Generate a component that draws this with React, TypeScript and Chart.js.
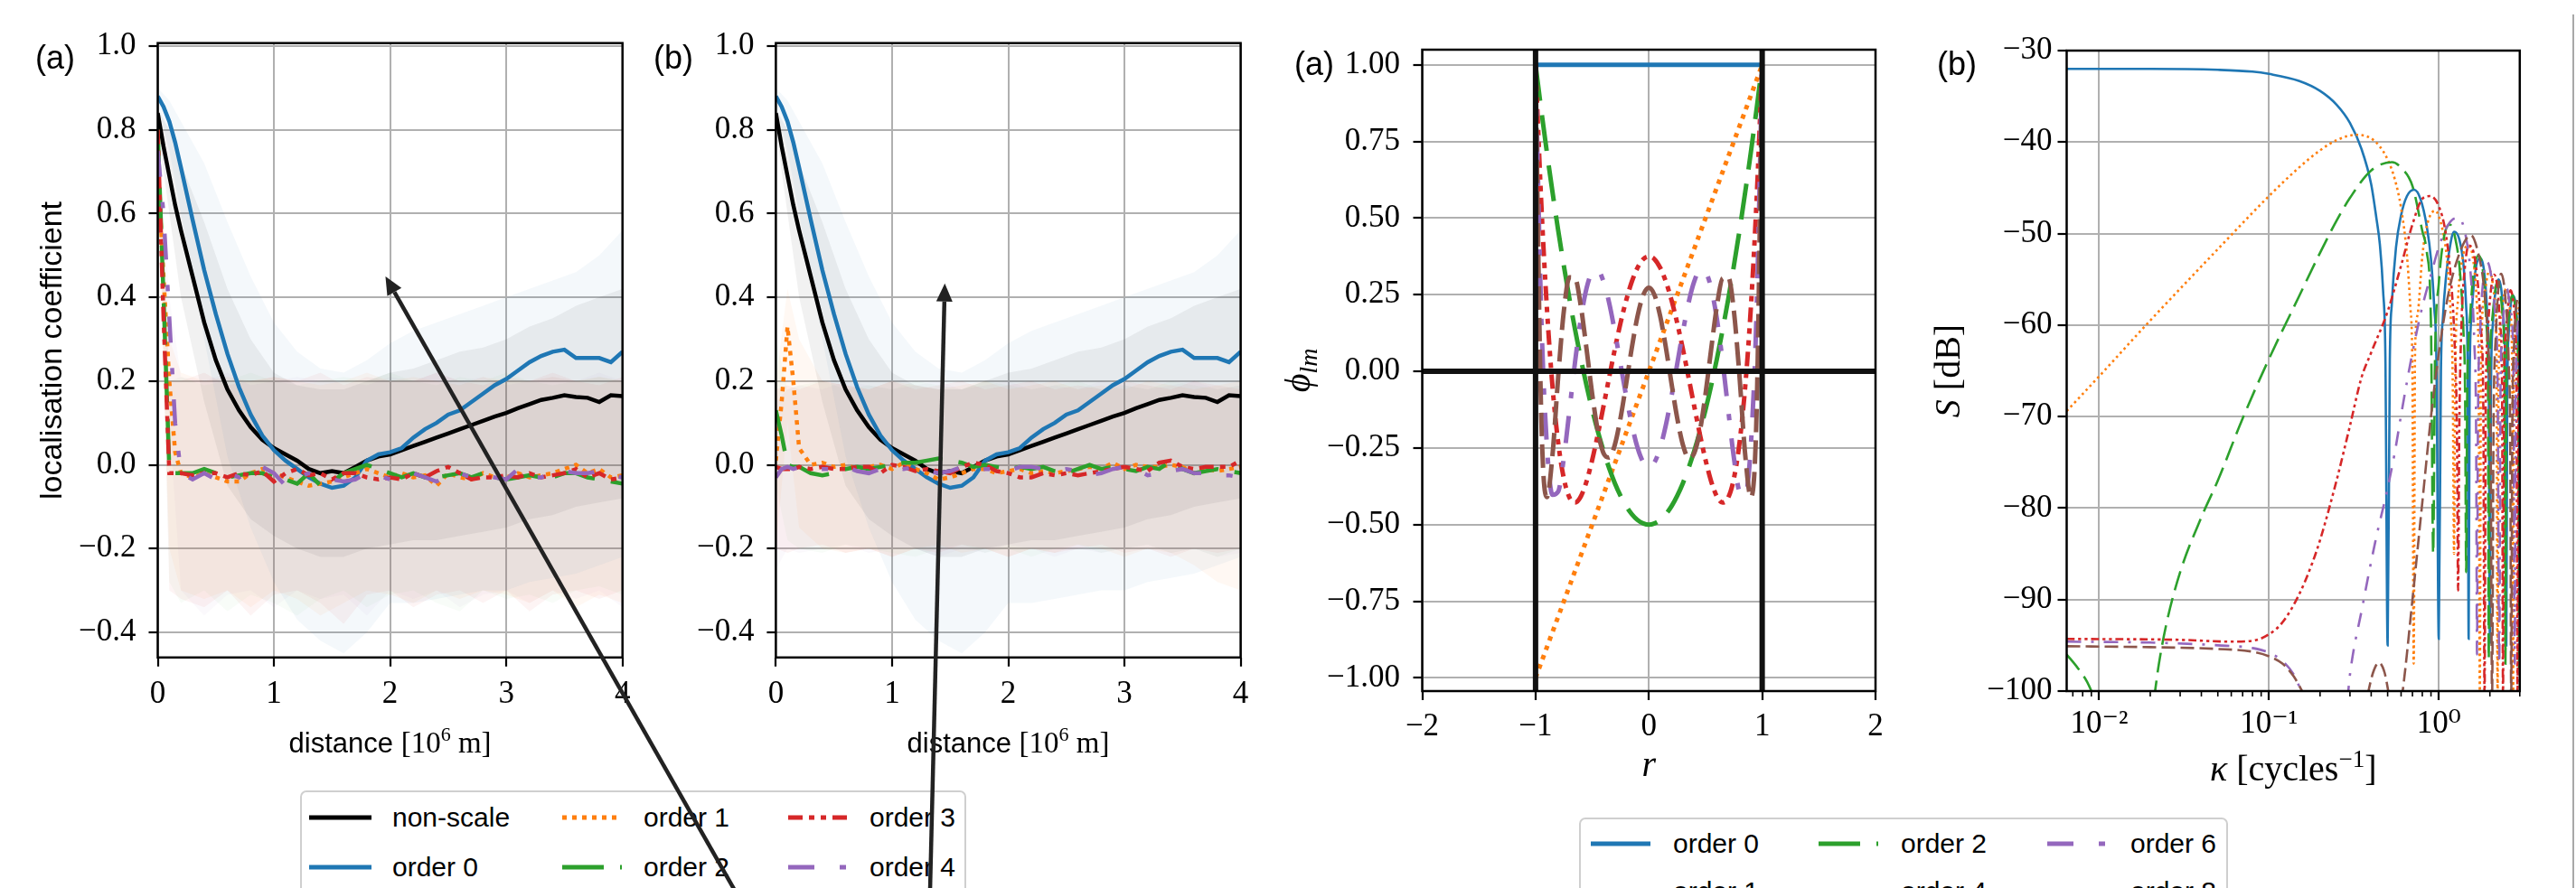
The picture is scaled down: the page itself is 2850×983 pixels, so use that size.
import React, { useEffect, useRef } from 'react';
import { Chart, registerables } from 'chart.js';
Chart.register(...registerables);

// ---------------- data: localisation coefficient panels ----------------
const distance = [0, 0.05, 0.1, 0.15, 0.2, 0.3, 0.4, 0.5, 0.6, 0.7, 0.8, 0.9, 1.0, 1.1, 1.2, 1.3, 1.4, 1.5, 1.6, 1.7, 1.8, 1.9, 2.0, 2.1, 2.2, 2.3, 2.4, 2.5, 2.6, 2.7, 2.8, 2.9, 3.0, 3.1, 3.2, 3.3, 3.4, 3.5, 3.6, 3.7, 3.8, 3.9, 4.0];
const nonScaleCoef = [0.84, 0.76, 0.69, 0.62, 0.56, 0.45, 0.34, 0.25, 0.18, 0.13, 0.09, 0.06, 0.04, 0.025, 0.01, -0.01, -0.02, -0.015, -0.02, -0.005, 0.01, 0.02, 0.025, 0.035, 0.045, 0.055, 0.065, 0.075, 0.085, 0.095, 0.105, 0.115, 0.124, 0.135, 0.145, 0.155, 0.16, 0.166, 0.162, 0.16, 0.15, 0.166, 0.164];
const order0Coef = [0.88, 0.855, 0.82, 0.77, 0.71, 0.585, 0.465, 0.36, 0.265, 0.185, 0.12, 0.07, 0.035, 0.01, -0.01, -0.03, -0.045, -0.055, -0.05, -0.03, 0.01, 0.025, 0.03, 0.04, 0.065, 0.085, 0.1, 0.12, 0.13, 0.15, 0.17, 0.19, 0.205, 0.225, 0.245, 0.26, 0.27, 0.275, 0.255, 0.255, 0.255, 0.245, 0.27];
const order1CoefA = [0.72, 0.45, 0.2, 0.03, -0.02, -0.03, -0.02, -0.03, -0.04, -0.04, -0.02, -0.01, -0.02, -0.03, -0.04, -0.05, -0.045, -0.04, -0.03, -0.02, -0.01, -0.02, -0.03, -0.02, -0.03, -0.025, -0.05, -0.02, -0.03, -0.035, -0.02, -0.03, -0.03, -0.02, -0.03, -0.025, -0.02, -0.01, 0.0, -0.02, -0.01, -0.03, -0.025];
const order2CoefA = [0.8, 0.4, -0.01, -0.02, -0.02, -0.02, -0.01, -0.02, -0.03, -0.025, -0.02, -0.02, -0.03, -0.035, -0.045, -0.02, -0.05, -0.04, -0.02, -0.01, 0.0, -0.01, -0.02, -0.03, -0.02, -0.03, -0.03, -0.025, -0.02, -0.03, -0.02, -0.03, -0.035, -0.03, -0.025, -0.03, -0.03, -0.02, -0.02, -0.03, -0.035, -0.04, -0.045];
const order3CoefA = [0.8, 0.35, -0.02, -0.02, -0.02, -0.025, -0.02, -0.02, -0.03, -0.02, -0.025, -0.015, -0.04, -0.02, -0.01, -0.025, -0.02, -0.035, -0.02, -0.02, -0.03, -0.035, -0.03, -0.035, -0.02, -0.03, -0.015, -0.005, -0.02, -0.035, -0.03, -0.03, -0.025, -0.03, -0.02, -0.03, -0.025, -0.02, -0.01, -0.03, -0.02, -0.035, -0.03];
const order4CoefA = [0.75, 0.6, 0.35, 0.1, -0.02, -0.035, -0.02, -0.035, -0.02, -0.03, -0.01, -0.005, -0.02, -0.05, -0.03, -0.02, -0.03, -0.035, -0.04, -0.035, -0.02, -0.025, -0.035, -0.03, -0.02, -0.03, -0.04, -0.025, -0.02, -0.03, -0.025, -0.03, -0.035, -0.01, -0.03, -0.03, -0.02, -0.015, -0.02, -0.02, -0.015, -0.025, -0.03];
const order1CoefB = [0.01, 0.15, 0.33, 0.2, 0.04, 0.0, 0.005, -0.005, 0.0, -0.01, -0.005, 0.0, -0.01, 0.005, -0.01, -0.02, -0.035, -0.03, -0.02, -0.01, -0.01, -0.02, -0.015, -0.01, -0.02, -0.015, -0.02, -0.015, -0.01, -0.005, -0.01, 0.005, -0.01, 0.0, -0.005, -0.005, 0.0, -0.005, -0.02, -0.01, -0.015, -0.01, -0.005];
const order2CoefB = [0.13, 0.07, 0.0, -0.005, -0.005, -0.02, -0.025, -0.02, -0.01, -0.005, -0.01, -0.005, 0.0, 0.005, 0.005, 0.01, 0.015, 0.01, 0.005, -0.005, 0.0, -0.005, -0.01, -0.005, -0.01, -0.005, -0.015, -0.02, -0.01, 0.0, -0.01, -0.005, -0.01, -0.015, -0.005, -0.01, 0.01, -0.01, -0.02, -0.015, -0.01, -0.015, -0.02];
const order3CoefB = [-0.005, -0.01, -0.01, -0.01, -0.005, -0.01, -0.005, -0.01, -0.01, -0.005, -0.005, -0.02, 0.0, -0.005, -0.015, -0.01, -0.015, -0.02, -0.005, 0.005, 0.0, -0.015, -0.02, -0.03, -0.03, -0.02, -0.025, -0.02, -0.025, -0.02, -0.015, -0.01, -0.005, -0.01, -0.015, 0.005, 0.01, -0.005, -0.01, -0.005, -0.005, -0.005, 0.01];
const order4CoefB = [-0.03, -0.01, -0.005, -0.01, -0.005, -0.01, -0.01, -0.01, -0.005, -0.015, -0.02, -0.01, -0.005, -0.01, -0.005, -0.015, -0.02, -0.015, -0.005, -0.01, -0.01, -0.01, -0.015, -0.005, -0.005, -0.01, -0.015, -0.01, -0.015, -0.025, -0.02, -0.01, -0.005, -0.01, -0.025, -0.02, -0.015, -0.01, -0.02, -0.02, -0.025, -0.025, -0.03];

// spread bands (coarser distance grid)
const bandDistance = [0, 0.1, 0.2, 0.4, 0.6, 0.8, 1.0, 1.2, 1.4, 1.6, 1.8, 2.0, 2.2, 2.4, 2.6, 2.8, 3.0, 3.2, 3.4, 3.6, 3.8, 4.0];
const nonScaleUpper = [0.85, 0.8, 0.72, 0.58, 0.42, 0.3, 0.22, 0.19, 0.18, 0.18, 0.2, 0.22, 0.23, 0.25, 0.27, 0.28, 0.3, 0.33, 0.35, 0.38, 0.4, 0.42];
const nonScaleLower = [0.8, 0.6, 0.4, 0.15, -0.05, -0.13, -0.17, -0.2, -0.22, -0.22, -0.2, -0.19, -0.18, -0.18, -0.17, -0.16, -0.15, -0.13, -0.12, -0.1, -0.09, -0.08];
const order0Upper = [0.9, 0.87, 0.82, 0.72, 0.58, 0.45, 0.34, 0.27, 0.23, 0.22, 0.25, 0.29, 0.32, 0.34, 0.36, 0.38, 0.4, 0.42, 0.44, 0.46, 0.5, 0.56];
const order0Lower = [0.86, 0.75, 0.6, 0.3, 0.02, -0.15, -0.28, -0.37, -0.42, -0.45, -0.4, -0.33, -0.33, -0.32, -0.31, -0.3, -0.3, -0.28, -0.27, -0.26, -0.24, -0.22];
const order1UpperA = [0.75, 0.3, 0.22, 0.2, 0.21, 0.2, 0.21, 0.2, 0.19, 0.2, 0.22, 0.2, 0.21, 0.2, 0.19, 0.21, 0.2, 0.2, 0.21, 0.2, 0.21, 0.2];
const order1LowerA = [0.68, -0.2, -0.3, -0.32, -0.3, -0.34, -0.3, -0.32, -0.36, -0.33, -0.3, -0.31, -0.33, -0.3, -0.32, -0.3, -0.31, -0.33, -0.3, -0.34, -0.31, -0.33];
const order2UpperA = [0.82, 0.2, 0.21, 0.19, 0.2, 0.22, 0.2, 0.19, 0.2, 0.21, 0.2, 0.22, 0.2, 0.19, 0.21, 0.2, 0.22, 0.2, 0.19, 0.2, 0.21, 0.2];
const order2LowerA = [0.78, -0.28, -0.33, -0.3, -0.35, -0.31, -0.33, -0.36, -0.32, -0.3, -0.34, -0.31, -0.3, -0.33, -0.35, -0.3, -0.32, -0.31, -0.33, -0.3, -0.29, -0.31];
const order3UpperA = [0.82, 0.2, 0.2, 0.22, 0.19, 0.2, 0.21, 0.2, 0.22, 0.19, 0.21, 0.2, 0.2, 0.22, 0.2, 0.19, 0.21, 0.2, 0.22, 0.2, 0.19, 0.21];
const order3LowerA = [0.78, -0.3, -0.32, -0.34, -0.3, -0.36, -0.31, -0.3, -0.33, -0.38, -0.31, -0.3, -0.34, -0.31, -0.3, -0.33, -0.3, -0.35, -0.31, -0.3, -0.32, -0.3];
const order4UpperA = [0.78, 0.4, 0.21, 0.2, 0.22, 0.19, 0.2, 0.21, 0.2, 0.2, 0.19, 0.21, 0.2, 0.22, 0.2, 0.21, 0.19, 0.2, 0.21, 0.2, 0.22, 0.2];
const order4LowerA = [0.72, 0.1, -0.3, -0.36, -0.31, -0.3, -0.34, -0.3, -0.32, -0.31, -0.36, -0.3, -0.32, -0.3, -0.34, -0.31, -0.3, -0.33, -0.3, -0.32, -0.3, -0.34];
const order1UpperB = [0.2, 0.42, 0.3, 0.2, 0.19, 0.18, 0.2, 0.19, 0.18, 0.19, 0.2, 0.18, 0.19, 0.2, 0.18, 0.19, 0.18, 0.2, 0.19, 0.18, 0.19, 0.2];
const order1LowerB = [-0.2, 0.1, -0.15, -0.2, -0.21, -0.2, -0.22, -0.2, -0.19, -0.21, -0.2, -0.22, -0.2, -0.21, -0.19, -0.2, -0.22, -0.2, -0.21, -0.24, -0.28, -0.3];
const order2UpperB = [0.3, 0.18, 0.19, 0.2, 0.18, 0.19, 0.18, 0.2, 0.19, 0.18, 0.2, 0.19, 0.18, 0.19, 0.2, 0.18, 0.19, 0.18, 0.2, 0.19, 0.18, 0.19];
const order2LowerB = [-0.05, -0.18, -0.2, -0.21, -0.19, -0.2, -0.21, -0.22, -0.2, -0.19, -0.21, -0.2, -0.22, -0.2, -0.19, -0.21, -0.2, -0.19, -0.21, -0.2, -0.22, -0.2];
const order3UpperB = [0.18, 0.19, 0.18, 0.2, 0.19, 0.18, 0.2, 0.18, 0.19, 0.2, 0.18, 0.19, 0.2, 0.18, 0.19, 0.18, 0.2, 0.19, 0.18, 0.2, 0.19, 0.18];
const order3LowerB = [-0.2, -0.21, -0.2, -0.19, -0.21, -0.2, -0.22, -0.2, -0.21, -0.19, -0.2, -0.22, -0.2, -0.21, -0.2, -0.19, -0.21, -0.2, -0.22, -0.2, -0.21, -0.2];
const order4UpperB = [0.15, 0.18, 0.19, 0.18, 0.2, 0.19, 0.18, 0.19, 0.2, 0.18, 0.19, 0.2, 0.18, 0.19, 0.18, 0.2, 0.19, 0.18, 0.19, 0.2, 0.18, 0.19];
const order4LowerB = [-0.25, -0.2, -0.21, -0.2, -0.19, -0.21, -0.2, -0.2, -0.22, -0.2, -0.21, -0.19, -0.2, -0.22, -0.2, -0.21, -0.2, -0.19, -0.21, -0.2, -0.22, -0.21];

const distanceTicks = [0, 1, 2, 3, 4];
const coefTicks = [-0.4, -0.2, 0, 0.2, 0.4, 0.6, 0.8, 1.0];

// annotation arrows (tip in data units, tail offset in px)
const arrowTipA = [1.96, 0.45];
const arrowTailA = [398, 700];
const arrowTipB = [1.454, 0.433];
const arrowTailB = [-17, 700];

// ---------------- data: basis functions ----------------
const rGrid = [-1, -0.95, -0.9, -0.85, -0.8, -0.75, -0.7, -0.65, -0.6, -0.55, -0.5, -0.45, -0.4, -0.35, -0.3, -0.25, -0.2, -0.15, -0.1, -0.05, 0, 0.05, 0.1, 0.15, 0.2, 0.25, 0.3, 0.35, 0.4, 0.45, 0.5, 0.55, 0.6, 0.65, 0.7, 0.75, 0.8, 0.85, 0.9, 0.95, 1];
const phi0R = [-1, 1];
const phi0 = [1, 1];
const phi1R = [-1, 1];
const phi1 = [-1, 1];
const phi2 = [1, 0.854, 0.715, 0.584, 0.46, 0.344, 0.235, 0.134, 0.04, -0.046, -0.125, -0.196, -0.26, -0.316, -0.365, -0.406, -0.44, -0.466, -0.485, -0.496, -0.5, -0.496, -0.485, -0.466, -0.44, -0.406, -0.365, -0.316, -0.26, -0.196, -0.125, -0.046, 0.04, 0.134, 0.235, 0.344, 0.46, 0.584, 0.715, 0.854, 1];
const phi4 = [1, 0.554, 0.208, -0.051, -0.233, -0.35, -0.412, -0.428, -0.408, -0.359, -0.289, -0.205, -0.113, -0.019, 0.073, 0.158, 0.232, 0.293, 0.338, 0.366, 0.375, 0.366, 0.338, 0.293, 0.232, 0.158, 0.073, -0.019, -0.113, -0.205, -0.289, -0.359, -0.408, -0.428, -0.412, -0.35, -0.233, -0.051, 0.208, 0.554, 1];
const phi6 = [1, 0.187, -0.241, -0.403, -0.392, -0.281, -0.125, 0.035, 0.172, 0.271, 0.323, 0.329, 0.293, 0.223, 0.129, 0.024, -0.081, -0.175, -0.249, -0.296, -0.3125, -0.296, -0.249, -0.175, -0.081, 0.024, 0.129, 0.223, 0.293, 0.329, 0.323, 0.271, 0.172, 0.035, -0.125, -0.281, -0.392, -0.403, -0.241, 0.187, 1];
const phi8 = [1, -0.144, -0.41, -0.271, -0.017, 0.198, 0.307, 0.303, 0.212, 0.073, -0.074, -0.195, -0.267, -0.281, -0.239, -0.152, -0.04, 0.078, 0.18, 0.249, 0.273, 0.249, 0.18, 0.078, -0.04, -0.152, -0.239, -0.281, -0.267, -0.195, -0.074, 0.073, 0.212, 0.303, 0.307, 0.198, -0.017, -0.271, -0.41, -0.144, 1];
const boundaryLeftR = [-1, -1];
const boundaryRightR = [1, 1];
const boundarySpan = [-1.2, 1.2];
const zeroLineR = [-2, 2];
const zeroLinePhi = [0, 0];
const rTicks = [-2, -1, 0, 1, 2];
const phiTicks = [-1, -0.75, -0.5, -0.25, 0, 0.25, 0.5, 0.75, 1];

// ---------------- data: spectra ----------------
const order0Kappa = [0.00644, 0.02, 0.05, 0.08, 0.1, 0.15, 0.2, 0.25, 0.3, 0.35, 0.4, 0.43, 0.45, 0.47, 0.485, 0.5, 0.515, 0.53, 0.56, 0.6, 0.65, 0.715, 0.78, 0.85, 0.9, 0.94, 0.97, 1.0, 1.03, 1.06, 1.1, 1.16, 1.23, 1.32, 1.4, 1.45, 1.48, 1.5, 1.52, 1.56, 1.62, 1.74, 1.86, 1.93, 1.97, 2.0, 2.03, 2.08, 2.25, 2.42, 2.47, 2.5, 2.53, 2.58, 2.75, 2.92, 2.97, 3.0];
const order0S = [-32.0, -32.0, -32.1, -32.3, -32.55, -33.3, -34.4, -35.9, -37.9, -40.7, -44.6, -48.4, -51.2, -56.2, -63.5, -95, -63.8, -57.5, -51.5, -48.0, -45.9, -45.2, -46.2, -49.2, -52.8, -58, -64.5, -94.3, -65, -59, -55, -51.6, -49.8, -50.6, -53.5, -58, -65, -94.3, -66, -59, -55, -52.7, -54.5, -59, -66, -94.7, -67, -60, -55, -60, -67, -95, -68, -61, -56.8, -61, -68, -95];
const order1Kappa = [0.00644, 0.01, 0.02, 0.05, 0.1, 0.15, 0.2, 0.25, 0.33, 0.4, 0.45, 0.5, 0.55, 0.6, 0.65, 0.68, 0.7, 0.712, 0.725, 0.75, 0.8, 0.85, 0.95, 1.05, 1.12, 1.18, 1.21, 1.23, 1.25, 1.3, 1.37, 1.48, 1.6, 1.68, 1.72, 1.745, 1.77, 1.85, 1.99, 2.13, 2.19, 2.22, 2.25, 2.33, 2.49, 2.65, 2.71, 2.74, 2.77, 2.85, 3.0];
const order1S = [-69.4, -65.6, -59.5, -51.7, -45.9, -42.8, -40.9, -39.8, -39.2, -39.6, -40.5, -41.9, -44.0, -47.2, -52.4, -58, -65.5, -97, -63, -58.9, -52.5, -49.2, -47.5, -49.5, -53, -59.7, -67, -85, -66, -57, -53, -51.3, -53, -58, -66, -100, -66, -57, -54, -57, -64, -101, -66, -59, -56, -59, -66, -101, -67, -60, -57.4];
const order2Kappa = [0.00644, 0.0075, 0.0085, 0.0095, 0.015, 0.021, 0.0225, 0.025, 0.03, 0.04, 0.05, 0.07, 0.1, 0.15, 0.2, 0.25, 0.3, 0.4, 0.53, 0.6, 0.7, 0.8, 0.85, 0.9, 0.927, 0.95, 1.0, 1.07, 1.16, 1.25, 1.33, 1.4, 1.43, 1.45, 1.47, 1.52, 1.6, 1.71, 1.83, 1.91, 1.95, 1.97, 1.99, 2.05, 2.22, 2.38, 2.44, 2.47, 2.5, 2.56, 2.72, 2.88, 2.94, 2.975, 3.0];
const order2S = [-96, -97.5, -99, -101, null, -101, -97, -92.5, -87, -81, -77, -70.2, -63.7, -56.9, -52.1, -48.6, -46.1, -43.1, -42.2, -42.8, -44.8, -49.7, -52.0, -60, -85, -64, -55.5, -50.5, -49, -50.5, -54, -61, -68, -87, -68, -60, -54.5, -52.4, -54.5, -60, -67, -96.5, -68, -60, -55.2, -59, -66, -97, -67, -60, -56.7, -60, -67, -98, -68];
const order4Kappa = [0.00644, 0.03, 0.06, 0.08, 0.1, 0.12, 0.15, 0.18, 0.2, 0.25, 0.3, 0.35, 0.4, 0.5, 0.6, 0.7, 0.8, 0.89, 1.0, 1.1, 1.18, 1.24, 1.28, 1.3, 1.32, 1.36, 1.42, 1.5, 1.6, 1.7, 1.78, 1.83, 1.86, 1.89, 1.94, 2.02, 2.12, 2.22, 2.3, 2.36, 2.39, 2.42, 2.48, 2.65, 2.8, 2.87, 2.91, 2.95, 3.0];
const order4S = [-94.3, -94.4, -94.6, -94.5, -93.8, -92.5, -89.5, -86, -83.5, -77, -71, -65.8, -63, -58.5, -53.5, -49, -46.2, -45.9, -47, -50, -55, -62, -72, -89, -72, -60, -54, -51.3, -52, -55.5, -61, -69, -101, -69, -61, -56.5, -54.5, -56, -60, -67, -101, -68, -61, -56.2, -59, -66, -101, -68, -62];
const order6Kappa = [0.00644, 0.02, 0.05, 0.08, 0.1, 0.12, 0.14, 0.155, 0.16, 0.29, 0.3, 0.354, 0.426, 0.492, 0.55, 0.603, 0.7, 0.8, 0.9, 1.0, 1.1, 1.2, 1.31, 1.45, 1.55, 1.62, 1.66, 1.68, 1.7, 1.75, 1.83, 1.93, 2.05, 2.15, 2.22, 2.27, 2.31, 2.38, 2.52, 2.65, 2.75, 2.8, 2.84, 2.92, 3.0];
const order6S = [-94.6, -94.7, -95, -95.3, -95.8, -96.7, -98.2, -100, null, -101, -98.2, -90.9, -83.4, -78.4, -74, -69.6, -63, -58, -54.5, -51.5, -49.5, -48.5, -48.3, -50.5, -55, -62, -72, -96, -72, -61, -55, -53.1, -55, -59, -66, -97, -67, -60, -56, -58.5, -64, -97, -67, -60, -58];
const order8Kappa = [0.00644, 0.02, 0.05, 0.08, 0.1, 0.12, 0.14, 0.16, 0.17, 0.38, 0.41, 0.444, 0.48, 0.51, 0.52, 0.6, 0.615, 0.7, 0.79, 0.927, 1.11, 1.31, 1.55, 1.7, 1.85, 1.95, 2.02, 2.06, 2.1, 2.17, 2.33, 2.48, 2.58, 2.64, 2.67, 2.71, 2.78, 2.95, 3.0];
const order8S = [-95.1, -95.2, -95.4, -95.7, -96.2, -97, -98.4, -100.3, null, -100.5, -98, -96.9, -98, -100.5, null, -101, -99.8, -90, -80.4, -67.9, -57.7, -52.4, -50.2, -52, -56, -62, -72, -101, -72, -61, -54.4, -57.5, -64, -75, -101, -72, -62, -57, -57.2];
const kappaTicks = [0.01, 0.1, 1];
const kappaTickLabels = ['10\u207B\u00B2', '10\u207B\u00B9', '10\u2070'];
const kappaMinorTicks = [0.007, 0.008, 0.009, 0.02, 0.03, 0.04, 0.05, 0.06, 0.07, 0.08, 0.09, 0.2, 0.3, 0.4, 0.5, 0.6, 0.7, 0.8, 0.9, 2, 3];
const dbTicks = [-100, -90, -80, -70, -60, -50, -40, -30];

// legends
const legendLabelsLeft = ['non-scale', 'order 0', 'order 1', 'order 2', 'order 3', 'order 4'];
const legendLabelsRight = ['order 0', 'order 1', 'order 2', 'order 4', 'order 6', 'order 8'];

// ---------------- styling ----------------
const SANS = "'Liberation Sans', Arimo, Arial, sans-serif";
const SERIF = "'Liberation Serif', 'DejaVu Serif', serif";
const COL = { black: '#000000', blue: '#1f77b4', orange: '#ff7f0e', green: '#2ca02c', red: '#d62728', purple: '#9467bd', brown: '#8c564b' };
const GRID = '#b0b0b0';
const TICK_FONT = { family: SERIF, size: 35, lineHeight: 1.2 };
const DOT = [5, 6];
const LDASH = [46, 18];
const DDOT = [16, 7, 6, 7, 6, 7];
const DASHDOT = [29, 28, 7, 28];
const BDASH = [30, 10];
const thin = (p: number[], f: number) => p.map((v) => v * f);

const pts = (xs: number[], ys: (number | null)[]) => xs.map((x, i) => ({ x, y: ys[i] }));
const lineDs = (xs: number[], ys: (number | null)[], color: string, width: number, dash: number[], order: number, mono = false) => ({
  data: pts(xs, ys), borderColor: color, backgroundColor: color, borderWidth: width, borderDash: dash,
  pointRadius: 0, pointHoverRadius: 0, fill: false, tension: 0, order, spanGaps: false,
  cubicInterpolationMode: mono ? 'monotone' : 'default',
});
const bandDs = (xs: number[], up: number[], lo: number[], rgba: string) => [
  { data: pts(xs, up), borderWidth: 0, borderColor: 'rgba(0,0,0,0)', pointRadius: 0, fill: '+1', backgroundColor: rgba, order: 100, tension: 0 },
  { data: pts(xs, lo), borderWidth: 0, borderColor: 'rgba(0,0,0,0)', pointRadius: 0, fill: false, order: 100, tension: 0 },
];

const signed = (d: number) => (v: number) => (v < -1e-9 ? '\u2212' : '') + Math.abs(v).toFixed(d);

function axis(o: any) {
  return {
    type: o.type || 'linear', min: o.min, max: o.max,
    afterBuildTicks: (s: any) => { s.ticks = o.ticks.map((v: number) => ({ value: v })); },
    afterFit: (s: any) => { if (o.h) s.height = o.fit; else s.width = o.fit; },
    grid: { color: GRID, lineWidth: 2, drawTicks: true, tickLength: 10, tickColor: '#000', tickWidth: 2.2 },
    border: { display: false },
    ticks: { font: TICK_FONT, color: '#000', padding: o.pad, maxRotation: 0, minRotation: 0, autoSkip: false, callback: (v: any) => o.fmt(Number(v)) },
  };
}

type Seg = { t: string; font: string; dy?: number };
type TextItem = { segs: Seg[]; x: number; y: number; rot?: number; align?: 'center' | 'left' };
function drawRich(ctx: CanvasRenderingContext2D, it: TextItem) {
  ctx.save();
  ctx.translate(it.x, it.y);
  if (it.rot) ctx.rotate(it.rot);
  ctx.textBaseline = 'alphabetic';
  ctx.textAlign = 'left';
  ctx.fillStyle = '#000';
  let total = 0;
  const widths = it.segs.map((s) => { ctx.font = s.font; const w = ctx.measureText(s.t).width; total += w; return w; });
  let x = it.align === 'left' ? 0 : -total / 2;
  it.segs.forEach((s, i) => { ctx.font = s.font; ctx.fillText(s.t, x, s.dy || 0); x += widths[i]; });
  ctx.restore();
}
const textPlugin = (items: TextItem[]) => ({ id: 'texts', afterDraw(chart: any) { items.forEach((it) => drawRich(chart.ctx, it)); } });
const framePlugin = {
  id: 'frame',
  afterDatasetsDraw(chart: any) {
    const { ctx, chartArea: a } = chart;
    ctx.save(); ctx.strokeStyle = '#000'; ctx.lineWidth = 2.5;
    ctx.strokeRect(a.left, a.top, a.right - a.left, a.bottom - a.top); ctx.restore();
  },
};
const arrowPlugin = (tip: number[], tail: number[]) => ({
  id: 'arrow',
  afterDraw(chart: any) {
    const { ctx, scales } = chart;
    const tx = scales.x.getPixelForValue(tip[0]);
    const ty = scales.y.getPixelForValue(tip[1]);
    const ex = tx + tail[0], ey = ty + tail[1];
    const ang = Math.atan2(ty - ey, tx - ex);
    const hl = 20, hw = 9;
    const bx = tx - hl * Math.cos(ang), by = ty - hl * Math.sin(ang);
    ctx.save();
    ctx.strokeStyle = '#222'; ctx.fillStyle = '#222'; ctx.lineWidth = 4.5;
    ctx.beginPath(); ctx.moveTo(ex, ey); ctx.lineTo(bx, by); ctx.stroke();
    ctx.beginPath(); ctx.moveTo(tx, ty);
    ctx.lineTo(bx + hw * Math.sin(ang), by - hw * Math.cos(ang));
    ctx.lineTo(bx - hw * Math.sin(ang), by + hw * Math.cos(ang));
    ctx.closePath(); ctx.fill(); ctx.restore();
  },
});
const minorTickPlugin = {
  id: 'minor',
  afterDraw(chart: any) {
    const { ctx, scales, chartArea: a } = chart;
    ctx.save(); ctx.strokeStyle = '#000'; ctx.lineWidth = 1.6;
    kappaMinorTicks.forEach((v) => {
      const x = scales.x.getPixelForValue(v);
      if (x < a.left || x > a.right) return;
      ctx.beginPath(); ctx.moveTo(x, a.bottom); ctx.lineTo(x, a.bottom + 6); ctx.stroke();
    });
    ctx.restore();
  },
};

const baseOptions = (pad: any) => ({
  animation: false, responsive: false, devicePixelRatio: 1, events: [],
  layout: { padding: pad },
  plugins: { legend: { display: false }, tooltip: { enabled: false } },
});

function localisationConfig(variant: 'a' | 'b') {
  const a = variant === 'a';
  const o1 = a ? order1CoefA : order1CoefB, o2 = a ? order2CoefA : order2CoefB;
  const o3 = a ? order3CoefA : order3CoefB, o4 = a ? order4CoefA : order4CoefB;
  const datasets: any[] = [
    lineDs(distance, nonScaleCoef, COL.black, 4.5, [], 6),
    lineDs(distance, order0Coef, COL.blue, 4.5, [], 5),
    lineDs(distance, o1, COL.orange, 4.5, DOT, 4),
    lineDs(distance, o2, COL.green, 4.5, LDASH, 3),
    lineDs(distance, o3, COL.red, 4.5, DDOT, 2),
    lineDs(distance, o4, COL.purple, 4.5, DASHDOT, 1),
    ...bandDs(bandDistance, nonScaleUpper, nonScaleLower, 'rgba(0,0,0,0.055)'),
    ...bandDs(bandDistance, order0Upper, order0Lower, 'rgba(31,119,180,0.05)'),
    ...bandDs(bandDistance, a ? order1UpperA : order1UpperB, a ? order1LowerA : order1LowerB, 'rgba(255,127,14,0.05)'),
    ...bandDs(bandDistance, a ? order2UpperA : order2UpperB, a ? order2LowerA : order2LowerB, 'rgba(44,160,44,0.035)'),
    ...bandDs(bandDistance, a ? order3UpperA : order3UpperB, a ? order3LowerA : order3LowerB, 'rgba(214,39,40,0.05)'),
    ...bandDs(bandDistance, a ? order4UpperA : order4UpperB, a ? order4LowerA : order4LowerB, 'rgba(148,103,189,0.04)'),
  ];
  const yW = a ? 174.5 : 158.4;
  const padR = a ? 151.3 : 167.4;
  const cx = a ? 431.6 : 415.5;
  const texts: TextItem[] = [
    { segs: [{ t: a ? '(a)' : '(b)', font: `36px ${SANS}` }], x: a ? 39 : 23, y: 76, align: 'left' },
    { segs: [{ t: 'distance ', font: `31px ${SANS}` }, { t: '[10', font: `33px ${SERIF}` }, { t: '6', font: `22px ${SERIF}`, dy: -13 }, { t: ' m]', font: `33px ${SERIF}` }], x: cx, y: 833 },
  ];
  if (a) texts.push({ segs: [{ t: 'localisation coefficient', font: `34px ${SANS}` }], x: 68, y: 388, rot: -Math.PI / 2 });
  return {
    type: 'line',
    data: { datasets },
    options: {
      ...baseOptions({ left: 0, top: 47.7, right: padR, bottom: 0 }),
      scales: {
        x: axis({ min: 0, max: 4, ticks: distanceTicks, fmt: signed(0), fit: 255.2, h: true, pad: 10 }),
        y: axis({ min: -0.46, max: 1.007, ticks: coefTicks, fmt: signed(1), fit: yW, h: false, pad: 14 }),
      },
    },
    plugins: [framePlugin, textPlugin(texts), arrowPlugin(a ? arrowTipA : arrowTipB, a ? arrowTailA : arrowTailB)],
  };
}

function basisConfig() {
  const datasets: any[] = [
    lineDs(boundaryLeftR, boundarySpan, '#111', 6, [], -1),
    lineDs(boundaryRightR, boundarySpan, '#111', 6, [], -1),
    lineDs(zeroLineR, zeroLinePhi, '#111', 6, [], -1),
    lineDs(phi0R, phi0, COL.blue, 5, [], 6),
    lineDs(phi1R, phi1, COL.orange, 5, DOT, 5),
    lineDs(rGrid, phi2, COL.green, 5, [40, 16], 4, true),
    lineDs(rGrid, phi4, COL.red, 5, DDOT, 3, true),
    lineDs(rGrid, phi6, COL.purple, 5, [30, 20, 7, 20], 2, true),
    lineDs(rGrid, phi8, COL.brown, 5, [26, 9], 1, true),
  ];
  const texts: TextItem[] = [
    { segs: [{ t: '(a)', font: `36px ${SANS}` }], x: 32, y: 82.5, align: 'left' },
    { segs: [{ t: 'r', font: `italic 40px ${SERIF}` }], x: 424.25, y: 859 },
    { segs: [{ t: '\u03D5', font: `italic 40px ${SERIF}` }, { t: 'lm', font: `italic 28px ${SERIF}`, dy: 8 }], x: 48.5, y: 410, rot: -Math.PI / 2 },
  ];
  return {
    type: 'line',
    data: { datasets },
    options: {
      ...baseOptions({ left: 0, top: 55, right: 85, bottom: 0 }),
      scales: {
        x: axis({ min: -2, max: 2, ticks: rTicks, fmt: signed(0), fit: 218, h: true, pad: 9 }),
        y: axis({ min: -1.043, max: 1.0495, ticks: phiTicks, fmt: signed(2), fit: 173.5, h: false, pad: 14.5 }),
      },
    },
    plugins: [framePlugin, textPlugin(texts)],
  };
}

function spectrumConfig() {
  const f = 0.55;
  const datasets: any[] = [
    lineDs(order0Kappa, order0S, COL.blue, 2.6, [], 6, true),
    lineDs(order1Kappa, order1S, COL.orange, 2.6, [2.6, 3.6], 5, true),
    lineDs(order2Kappa, order2S, COL.green, 2.6, [22, 9], 4, true),
    lineDs(order4Kappa, order4S, COL.red, 2.6, thin(DDOT, f), 3, true),
    lineDs(order6Kappa, order6S, COL.purple, 2.6, [16, 11, 3, 11], 2, true),
    lineDs(order8Kappa, order8S, COL.brown, 2.6, [15, 6], 1, true),
  ];
  const texts: TextItem[] = [
    { segs: [{ t: '(b)', font: `36px ${SANS}` }], x: 43, y: 82.5, align: 'left' },
    { segs: [{ t: '\u03BA', font: `italic 40px ${SERIF}` }, { t: ' [cycles', font: `40px ${SERIF}` }, { t: '\u22121', font: `27px ${SERIF}`, dy: -15 }, { t: ']', font: `40px ${SERIF}` }], x: 437.2, y: 864 },
    { segs: [{ t: 'S', font: `italic 40px ${SERIF}` }, { t: ' [dB]', font: `40px ${SERIF}` }], x: 68, y: 410.5, rot: -Math.PI / 2 },
  ];
  return {
    type: 'line',
    data: { datasets },
    options: {
      ...baseOptions({ left: 0, top: 56, right: 62.2, bottom: 0 }),
      scales: {
        x: axis({ type: 'logarithmic', min: 0.00644, max: 3.0, ticks: kappaTicks, fmt: (v: number) => kappaTickLabels[kappaTicks.findIndex((t) => Math.abs(t - v) < 1e-9)] ?? '', fit: 218, h: true, pad: 6 }),
        y: axis({ min: -100, max: -30, ticks: dbTicks, fmt: signed(0), fit: 186.5, h: false, pad: 6 }),
      },
    },
    plugins: [framePlugin, minorTickPlugin, textPlugin(texts)],
  };
}

// ---------------- legend (HTML) ----------------
type LegendItem = { label: string; color: string; dash: number[] };
function Legend({ box, items, cols, rows, lineX, textX }: { box: { left: number; top: number; width: number; height: number }; items: LegendItem[]; cols: number; rows: number[]; lineX: number[][]; textX: number[] }) {
  return (
    <>
      <div style={{ position: 'absolute', left: box.left, top: box.top, width: box.width, height: box.height, border: '2px solid #cfcfcf', borderRadius: 7, background: 'rgba(255,255,255,0.85)', boxSizing: 'border-box' }} />
      {items.map((it, i) => {
        const c = Math.floor(i / rows.length);
        const r = i % rows.length;
        if (c >= cols) return null;
        const y = rows[r];
        const [x1, x2] = lineX[c];
        return (
          <React.Fragment key={i}>
            <svg style={{ position: 'absolute', left: x1, top: y - 8, overflow: 'visible' }} width={x2 - x1} height={16}>
              <line x1={0} y1={8} x2={x2 - x1} y2={8} stroke={it.color} strokeWidth={5} strokeDasharray={it.dash.length ? it.dash.join(' ') : undefined} />
            </svg>
            <div style={{ position: 'absolute', left: textX[c], top: y - 20, height: 40, display: 'flex', alignItems: 'center', font: `30px ${SANS}`, color: '#000', whiteSpace: 'nowrap' }}>{it.label}</div>
          </React.Fragment>
        );
      })}
    </>
  );
}

const leftLegendStyles = [
  { color: COL.black, dash: [] }, { color: COL.blue, dash: [] }, { color: COL.orange, dash: DOT },
  { color: COL.green, dash: LDASH }, { color: COL.red, dash: DDOT }, { color: COL.purple, dash: DASHDOT },
];
const rightLegendStyles = [
  { color: COL.blue, dash: [] }, { color: COL.orange, dash: DOT }, { color: COL.green, dash: LDASH },
  { color: COL.red, dash: DDOT }, { color: COL.purple, dash: DASHDOT }, { color: COL.brown, dash: BDASH },
];

export default function App() {
  const refA = useRef<HTMLCanvasElement>(null);
  const refB = useRef<HTMLCanvasElement>(null);
  const refC = useRef<HTMLCanvasElement>(null);
  const refD = useRef<HTMLCanvasElement>(null);

  useEffect(() => {
    document.body.style.margin = '0';
    const charts = [
      new Chart(refA.current as any, localisationConfig('a') as any),
      new Chart(refB.current as any, localisationConfig('b') as any),
      new Chart(refC.current as any, basisConfig() as any),
      new Chart(refD.current as any, spectrumConfig() as any),
    ];
    return () => charts.forEach((c) => c.destroy());
  }, []);

  const cv = (left: number, w: number): React.CSSProperties => ({ position: 'absolute', left, top: 0, width: w, height: 983 });
  const leftItems = legendLabelsLeft.map((label, i) => ({ label, ...leftLegendStyles[i] }));
  const rightItems = legendLabelsRight.map((label, i) => ({ label, ...rightLegendStyles[i] }));

  return (
    <div style={{ position: 'absolute', left: 0, top: 0, width: 2850, height: 983, overflow: 'hidden', background: '#fff' }}>
      <Legend box={{ left: 331.6, top: 875, width: 737.4, height: 140 }} items={leftItems} cols={3} rows={[905, 960]}
        lineX={[[342, 411], [622, 688], [872, 937]]} textX={[434, 712, 962]} />
      <Legend box={{ left: 1747, top: 905, width: 718, height: 140 }} items={rightItems} cols={3} rows={[934, 987]}
        lineX={[[1760, 1826], [2012, 2078], [2265, 2330]]} textX={[1851, 2103, 2357]} />
      <canvas ref={refA} width={840} height={983} style={cv(0, 840)} />
      <canvas ref={refB} width={840} height={983} style={cv(700, 840)} />
      <canvas ref={refC} width={760} height={983} style={cv(1400, 760)} />
      <canvas ref={refD} width={750} height={983} style={cv(2100, 750)} />
      <div style={{ position: 'absolute', left: 2846, top: 16, width: 2, height: 967, background: '#a8a8a8' }} />
    </div>
  );
}
